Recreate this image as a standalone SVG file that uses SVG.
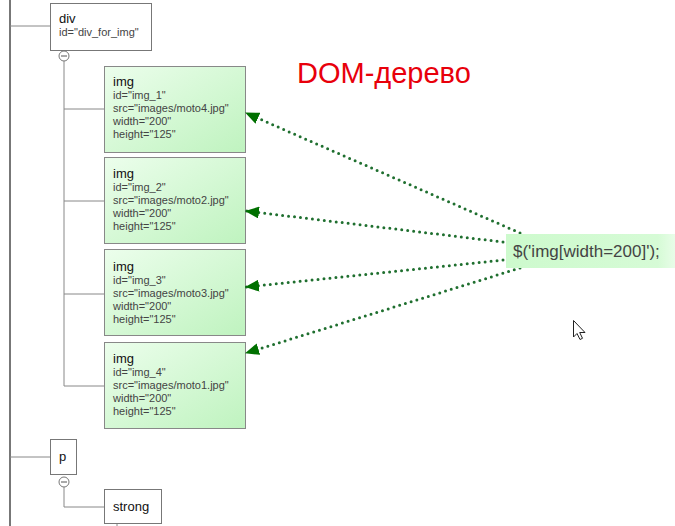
<svg xmlns="http://www.w3.org/2000/svg" width="675" height="526" viewBox="0 0 675 526">
<style>
.tree{stroke:#888;stroke-width:1;fill:none}
.spine{stroke:#777;stroke-width:2;fill:none}
.plain{fill:#fff;stroke:#777;stroke-width:1}
.green{fill:url(#gg);stroke:#888;stroke-width:1}
.tag{font-family:"Liberation Sans",Arial,sans-serif;font-size:13px;fill:#111}
.attr{font-family:"Liberation Sans",Arial,sans-serif;font-size:11px;fill:#444}
.dot{stroke:#1f6f2f;stroke-width:3;stroke-dasharray:0 6;stroke-linecap:round;fill:none}
.minus{fill:#fff;stroke:#777;stroke-width:1}
</style>
<defs>
<linearGradient id="gg" x1="0" y1="0" x2="1" y2="1">
<stop offset="0" stop-color="#ecfeec"/>
<stop offset="1" stop-color="#bff3bf"/>
</linearGradient>
<linearGradient id="lg" x1="0" y1="0" x2="1" y2="0">
<stop offset="0" stop-color="#cdfacd"/>
<stop offset="0.9" stop-color="#d6fbd6"/>
<stop offset="1" stop-color="#e8fde8"/>
</linearGradient>
<marker id="ah" markerUnits="userSpaceOnUse" markerWidth="14" markerHeight="12" refX="13" refY="6" orient="auto">
<path d="M0,0 L14,6 L0,12 z" fill="#007000"/>
</marker>
</defs>

<g id="tree-lines">
<line class="spine" x1="10" y1="0" x2="10" y2="526"/>
<line class="tree" x1="10" y1="26" x2="50" y2="26"/>
<line class="tree" x1="64" y1="61" x2="64" y2="386"/>
<line class="tree" x1="64" y1="109" x2="104" y2="109"/>
<line class="tree" x1="64" y1="201" x2="104" y2="201"/>
<line class="tree" x1="64" y1="294" x2="104" y2="294"/>
<line class="tree" x1="64" y1="386" x2="104" y2="386"/>
<line class="tree" x1="10" y1="457" x2="50" y2="457"/>
<polyline class="tree" points="64,487 64,507 104,507"/>
<line class="tree" x1="117" y1="523" x2="117" y2="526"/>
</g>

<g id="node-div">
<rect class="plain" x="50.5" y="3.5" width="101" height="47"/>
<text class="tag" x="59" y="23">div</text>
<text class="attr" x="59" y="36">id="div_for_img"</text>
<circle class="minus" cx="64" cy="56" r="5"/>
<line x1="61" y1="56" x2="67" y2="56" stroke="#555" stroke-width="1"/>
</g>

<g id="node-img1">
<rect class="green" x="104.5" y="66.5" width="141" height="86"/>
<text class="tag" x="113" y="86">img</text>
<text class="attr" x="113" y="99">id="img_1"</text>
<text class="attr" x="113" y="112">src="images/moto4.jpg"</text>
<text class="attr" x="113" y="125">width="200"</text>
<text class="attr" x="113" y="138">height="125"</text>
</g>

<g id="node-img2">
<rect class="green" x="104.5" y="157.5" width="141" height="86"/>
<text class="tag" x="113" y="178">img</text>
<text class="attr" x="113" y="191">id="img_2"</text>
<text class="attr" x="113" y="204">src="images/moto2.jpg"</text>
<text class="attr" x="113" y="217">width="200"</text>
<text class="attr" x="113" y="230">height="125"</text>
</g>

<g id="node-img3">
<rect class="green" x="104.5" y="249.5" width="141" height="86"/>
<text class="tag" x="113" y="271">img</text>
<text class="attr" x="113" y="284">id="img_3"</text>
<text class="attr" x="113" y="297">src="images/moto3.jpg"</text>
<text class="attr" x="113" y="310">width="200"</text>
<text class="attr" x="113" y="323">height="125"</text>
</g>

<g id="node-img4">
<rect class="green" x="104.5" y="342.5" width="141" height="86"/>
<text class="tag" x="113" y="363">img</text>
<text class="attr" x="113" y="376">id="img_4"</text>
<text class="attr" x="113" y="389">src="images/moto1.jpg"</text>
<text class="attr" x="113" y="402">width="200"</text>
<text class="attr" x="113" y="415">height="125"</text>
</g>

<g id="node-p">
<rect class="plain" x="50.5" y="439.5" width="26" height="35"/>
<text class="tag" x="59" y="461">p</text>
<circle class="minus" cx="64" cy="482" r="5"/>
<line x1="61" y1="482" x2="67" y2="482" stroke="#555" stroke-width="1"/>
</g>

<g id="node-strong">
<rect class="plain" x="104.5" y="489.5" width="57" height="34"/>
<text class="tag" x="113" y="511">strong</text>
</g>

<g id="title">
<text x="297" y="83" font-family="Liberation Sans,Arial,sans-serif" font-size="29" fill="#e8000b">DOM-дерево</text>
</g>

<g id="connectors">
<line class="dot" x1="520" y1="233" x2="246" y2="113" marker-end="url(#ah)"/>
<line class="dot" x1="503" y1="242" x2="246" y2="211" marker-end="url(#ah)"/>
<line class="dot" x1="503" y1="260" x2="246" y2="287" marker-end="url(#ah)"/>
<line class="dot" x1="520" y1="268" x2="246" y2="353" marker-end="url(#ah)"/>
</g>

<g id="node-selector">
<rect x="506" y="234" width="169" height="34" fill="url(#lg)"/>
<text x="513" y="257" font-family="Liberation Sans,Arial,sans-serif" font-size="17" fill="#444">$('img[width=200]');</text>
</g>

<g id="cursor">
<path d="M573.5,320.5 L573.5,337 L577,333.5 L580,339.5 L582.5,338.3 L579.7,332.5 L585,332.5 Z" fill="#fff" stroke="#222" stroke-width="1" stroke-linejoin="round"/>
</g>
</svg>
